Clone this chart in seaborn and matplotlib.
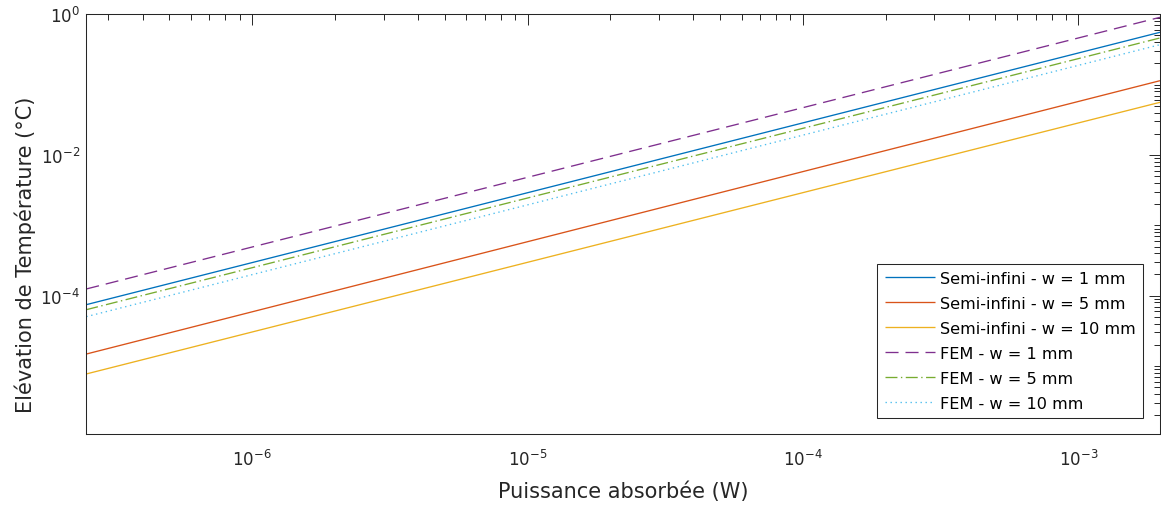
import numpy as np
import pandas as pd
import matplotlib
matplotlib.use("Agg")
import matplotlib.pyplot as plt
import matplotlib.ticker as mticker
import seaborn as sns

# puissance absorbée (W) aux deux bords du graphe
puissance = [2.5e-7, 1.98e-3]

# élévation de température (°C)
semi_w1 = [7.45e-5, 0.555]
semi_w5 = [1.48e-5, 0.1138]
semi_w10 = [7.71e-6, 0.0561]
fem_w1 = [1.245e-4, 0.906]
fem_w5 = [6.32e-5, 0.461]
fem_w10 = [5.03e-5, 0.370]

labels = ["Semi-infini - w = 1 mm", "Semi-infini - w = 5 mm", "Semi-infini - w = 10 mm",
          "FEM - w = 1 mm", "FEM - w = 5 mm", "FEM - w = 10 mm"]
series = [semi_w1, semi_w5, semi_w10, fem_w1, fem_w5, fem_w10]

colors = ["#0072BD", "#D95319", "#EDB120", "#7E2F8E", "#77AC30", "#4DBEEE"]
styles = [(0, ()), (0, ()), (0, ()),
          (0, (9.4, 5.0)), (0, (8.6, 2.5, 1.0, 2.5)), (0, (1.0, 2.6))]

sns.set_theme(style="white")
plt.rcParams["font.family"] = ["DejaVu Sans"]
plt.rcParams["mathtext.default"] = "regular"
plt.rcParams["lines.scale_dashes"] = False

df = pd.DataFrame({
    "P": np.tile(puissance, len(series)),
    "T": np.concatenate(series),
    "serie": np.repeat(labels, len(puissance)),
})

fig = plt.figure(figsize=(11.61, 5.06), dpi=100)
ax = fig.add_axes([86.3 / 1161, 1 - 435 / 506, (1160 - 86.3) / 1161, (435 - 15.3) / 506])

for lab, col, ls in zip(labels, colors, styles):
    sub = df[df["serie"] == lab]
    sns.lineplot(data=sub, x="P", y="T", ax=ax, color=col, linestyle=ls,
                 linewidth=0.95, label=lab)

ax.set_xscale("log")
ax.set_yscale("log")
ax.set_xlim(2.5e-7, 1.98e-3)
ax.set_ylim(1.08e-6, 1)

ax.xaxis.set_major_locator(mticker.LogLocator(base=10, numticks=20))
ax.xaxis.set_minor_locator(mticker.LogLocator(base=10, subs=np.arange(1, 10), numticks=50))
ax.yaxis.set_major_locator(mticker.LogLocator(base=100, numticks=20))
ax.yaxis.set_minor_locator(mticker.LogLocator(base=10, subs=np.arange(1, 10), numticks=50))
fmt = mticker.FuncFormatter(lambda v, pos: "$10^{%d}$" % int(round(np.log10(v))))
ax.xaxis.set_major_formatter(fmt)
ax.yaxis.set_major_formatter(fmt)
ax.xaxis.set_minor_formatter(mticker.NullFormatter())
ax.yaxis.set_minor_formatter(mticker.NullFormatter())

ax.tick_params(which="both", direction="in", top=True, right=True,
               colors="#262626", width=0.7, labelsize=12)
ax.tick_params(which="major", length=7.9)
ax.tick_params(which="minor", length=4.0)
ax.tick_params(axis="x", which="major", pad=10.5)
ax.tick_params(axis="y", which="major", pad=4.5)
for sp in ax.spines.values():
    sp.set_color("#262626")
    sp.set_linewidth(0.75)

ax.set_xlabel("Puissance absorbée (W)", fontsize=15, color="#262626")
ax.set_ylabel("Elévation de Température (°C)", fontsize=15, color="#262626")
ax.xaxis.set_label_coords(0.5, -0.150)
ax.xaxis.label.set_verticalalignment("baseline")
ax.yaxis.set_label_coords(-0.0506, 0.4289)
ax.yaxis.label.set_verticalalignment("baseline")

leg = ax.legend(loc="lower right", bbox_to_anchor=(0.9839, 0.0374), borderaxespad=0,
                fontsize=11.6, frameon=True, fancybox=False, framealpha=1,
                edgecolor="#262626", borderpad=0.45, labelspacing=0.62,
                handlelength=3.15, handletextpad=0.27)
leg.get_frame().set_linewidth(0.75)
for t in leg.get_texts():
    t.set_color("black")

fig.savefig("out.png", dpi=100)
